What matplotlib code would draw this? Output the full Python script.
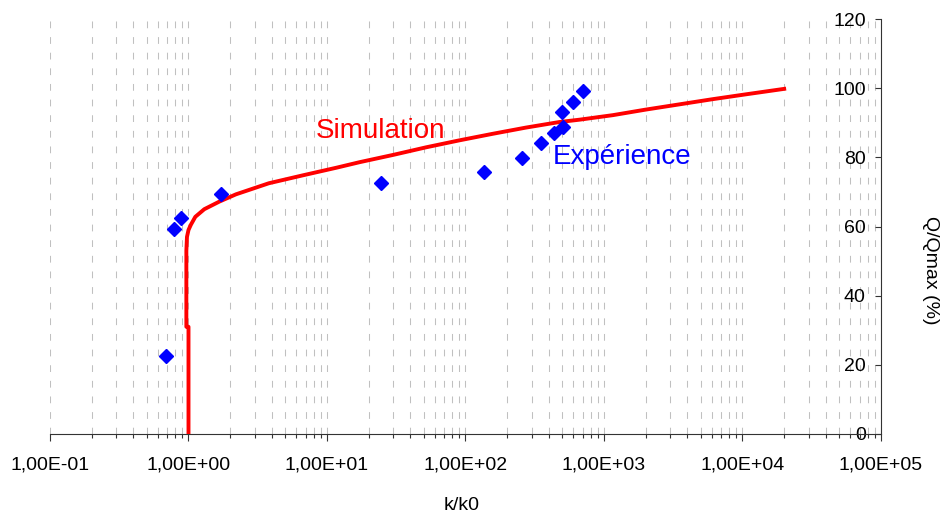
import numpy as np
import matplotlib
matplotlib.use("Agg")
import matplotlib.pyplot as plt
from matplotlib.ticker import FixedLocator, LogLocator, NullFormatter, FuncFormatter

plt.rcParams['font.family'] = ['Liberation Sans', 'DejaVu Sans']

# Simulation curve (k/k0, Q/Qmax %)
sim_k = [1.0, 1.0, 0.965, 0.965, 0.975, 1.0, 1.04, 1.12, 1.3, 1.67, 2.2, 3.8, 6.7,
         11.7, 17.2, 30, 52, 90, 157, 273, 475, 670, 1160, 2000, 3480, 6050, 10500, 20000]
sim_q = [0, 31, 31, 53, 57, 59, 60.5, 62.8, 65, 67.2, 69.3, 72.5, 74.8,
         77.0, 78.6, 80.7, 82.9, 84.9, 86.8, 88.6, 90.2, 90.9, 92.2, 93.8, 95.3, 96.8, 98.2, 99.8]

# Experimental points
exp_k = [0.69, 0.79, 0.89, 1.73, 24.6, 137, 254, 351, 438, 510, 497, 595, 700]
exp_q = [22.5, 59.2, 62.6, 69.3, 72.5, 75.9, 79.7, 84.2, 87.1, 88.7, 93.2, 96.1, 99.2]

x_major = [1e-1, 1e0, 1e1, 1e2, 1e3, 1e4, 1e5]
y_ticks = [0, 20, 40, 60, 80, 100, 120]

fig = plt.figure(figsize=(9.43, 5.15), dpi=100)
ax = fig.add_axes([50/943, 1-434/515, (881-50)/943, (434-19)/515])

ax.plot(sim_k, sim_q, color='#ff0000', lw=2.8, zorder=3)
ax.plot(exp_k, exp_q, linestyle='none', marker='D', ms=7.5, color='#0000ff', zorder=4)

ax.set_xscale('log')
ax.set_xlim(1e-1, 1e5)
ax.set_ylim(0, 120)

# x axis
ax.xaxis.set_major_locator(FixedLocator(x_major))
ax.xaxis.set_minor_locator(LogLocator(base=10, subs=np.arange(2, 10), numticks=20))
ax.xaxis.set_major_formatter(FuncFormatter(lambda v, p: ("%.2E" % v).replace('.', ',')))
ax.xaxis.set_minor_formatter(NullFormatter())
ax.tick_params(axis='x', which='major', direction='out', length=5, width=0.8,
               labelsize=14, pad=11, color='#333333')
ax.tick_params(axis='x', which='minor', direction='out', length=3, width=0.8, color='#333333')

# y axis on the right, labels inside
ax.yaxis.tick_right()
ax.set_yticks(y_ticks)
ax.tick_params(axis='y', direction='in', length=4.5, width=0.8, labelsize=14,
               pad=-11, color='#333333')
plt.setp(ax.get_yticklabels(), ha='right')

for s in ['top', 'left']:
    ax.spines[s].set_visible(False)
for s in ['bottom', 'right']:
    ax.spines[s].set_linewidth(0.8)
    ax.spines[s].set_color('#333333')

ax.grid(True, which='both', axis='x', color='#c0c0c0',
        linestyle=(0, (6.5, 8.5)), linewidth=0.75)
ax.set_axisbelow(True)

ax.text(8.26, 87.6, 'Simulation', color='#ff0000', fontsize=20, ha='left', va='center')
ax.text(425, 80.1, 'Expérience', color='#0000ff', fontsize=20, ha='left', va='center')

fig.text(462/943, 1-505/515, 'k/k0', fontsize=14, ha='center', va='center')
fig.text(931/943, 1-270/515, 'Q/Qmax (%)', fontsize=14, ha='center', va='center', rotation=-90)

fig.savefig('out.png', dpi=100)
